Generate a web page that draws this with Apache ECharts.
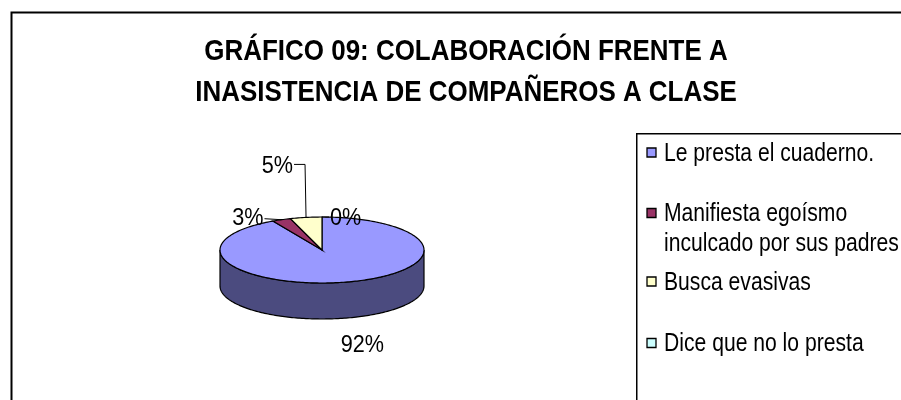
<!DOCTYPE html>
<html>
<head>
<meta charset="utf-8">
<script src="https://cdn.jsdelivr.net/npm/echarts@6/dist/echarts.min.js"></script>
<style>
html,body{margin:0;padding:0;background:#fff;}
#main{width:901px;height:400px;}
</style>
</head>
<body>
<div id="main"></div>
<script>
// datos del gráfico
var categories = ['Le presta el cuaderno.', 'Manifiesta egoísmo\ninculcado por sus padres', 'Busca evasivas', 'Dice que no lo presta'];
var percents = [92, 3, 5, 0];
var colors = ['#9999FF', '#993366', '#FFFFCC', '#CCFFFF'];
var sideColors = ['#4B4B7F', '#4C1933', '#7F7F66', '#667F7F'];
var titleText = 'GRÁFICO 09: COLABORACIÓN FRENTE A\nINASISTENCIA DE COMPAÑEROS A CLASE';

// no hay Arial Narrow: se comprime Liberation Sans con scaleX
var sans = '"Liberation Sans",Arial,sans-serif';
var total = percents.reduce(function(a, b){ return a + b; }, 0);

// geometria del pastel 3D (elipse)
var pie = {cx: 322, cy: 250, rx: 102, ry: 33, depth: 36};
// posicion de etiquetas respecto al punto de anclaje
var labelLayout = [
    {onSide: true, dx: 15, dy: 27, align: 'center'},
    {dx: -18, dy: -1, align: 'right', line: [[-17, -1]]},
    {dx: -13, dy: -51, align: 'right', line: [[-1, -53], [-12, -53]]},
    {dx: 8, dy: 1, align: 'left', line: [[7, 0]]}
];

function pt(t, dy){
    return [pie.cx + pie.rx * Math.sin(t), pie.cy - pie.ry * Math.cos(t) + (dy || 0)];
}
function arc(a0, a1, dy){
    var pts = [];
    var n = Math.max(2, Math.ceil((a1 - a0) / 0.02));
    for (var k = 0; k <= n; k++) pts.push(pt(a0 + (a1 - a0) * k / n, dy));
    return pts;
}

function renderItem(params, api){
    var i = params.dataIndex;
    var start = 0;
    for (var j = 0; j < i; j++) start += percents[j];
    var v = api.value(0);
    var a0 = start / total * Math.PI * 2;
    var a1 = (start + v) / total * Math.PI * 2;
    var children = [];
    // pared frontal
    var w0 = Math.max(a0, Math.PI / 2), w1 = Math.min(a1, Math.PI * 1.5);
    if (w1 > w0){
        var wall = arc(w0, w1, 0).concat(arc(w0, w1, pie.depth).reverse());
        children.push({type: 'polygon', shape: {points: wall},
            style: {fill: sideColors[i], stroke: '#000', lineWidth: 1.2}});
    }
    // cara superior
    if (v > 0){
        var top = [[pie.cx, pie.cy]].concat(arc(a0, a1, 0));
        children.push({type: 'polygon', shape: {points: top},
            style: {fill: colors[i], stroke: '#000', lineWidth: 1.2}});
    }
    // etiqueta
    var lay = labelLayout[i];
    var mid = (a0 + a1) / 2;
    var anchor = lay.onSide ? pt(mid, pie.depth) : pt(mid, 0);
    if (lay.line){
        var lp = [anchor].concat(lay.line.map(function(d){ return [anchor[0] + d[0], anchor[1] + d[1]]; }));
        children.push({type: 'polyline', shape: {points: lp}, style: {stroke: '#000', lineWidth: 1, fill: null}});
    }
    children.push({type: 'text', x: anchor[0] + lay.dx, y: anchor[1] + lay.dy, scaleX: 0.9,
        style: {text: Math.round(v / total * 100) + '%', fill: '#000', align: lay.align, verticalAlign: 'middle',
            font: '24px ' + sans}});
    return {type: 'group', children: children};
}

var graphics = [];
// marco exterior
graphics.push({type: 'rect', left: 9, top: 10, shape: {width: 1000, height: 500},
    style: {fill: null, stroke: '#000', lineWidth: 2}, z: -1});
// titulo
graphics.push({type: 'text', x: 466, y: 72, scaleX: 0.865,
    style: {text: titleText, fill: '#000', align: 'center', verticalAlign: 'middle',
        font: 'bold 30px ' + sans, lineHeight: 41}});
// leyenda
var legendY = [152.5, 213, 281.5, 343];
graphics.push({type: 'rect', left: 636, top: 133, shape: {width: 300, height: 300},
    style: {fill: '#fff', stroke: '#000', lineWidth: 1.5}, z: 0});
categories.forEach(function(name, i){
    var lines = name.split('\n').length;
    graphics.push({type: 'rect', x: 647, y: legendY[i] - 4.5, shape: {width: 9, height: 9},
        style: {fill: colors[i], stroke: '#000', lineWidth: 1.3}, z: 1});
    graphics.push({type: 'text', x: 664, y: legendY[i] + 1.5 + (lines - 1) * 15, scaleX: 0.845,
        style: {text: name, fill: '#000', font: '25px ' + sans, lineHeight: 30, verticalAlign: 'middle'}, z: 1});
});

var myChart = echarts.init(document.getElementById('main'));
myChart.setOption({
    backgroundColor: '#fff',
    animation: false,
    graphic: graphics,
    series: [{
        type: 'custom',
        coordinateSystem: 'none',
        renderItem: renderItem,
        data: percents.map(function(p, i){ return {name: categories[i], value: [p]}; })
    }]
});
</script>
</body>
</html>
